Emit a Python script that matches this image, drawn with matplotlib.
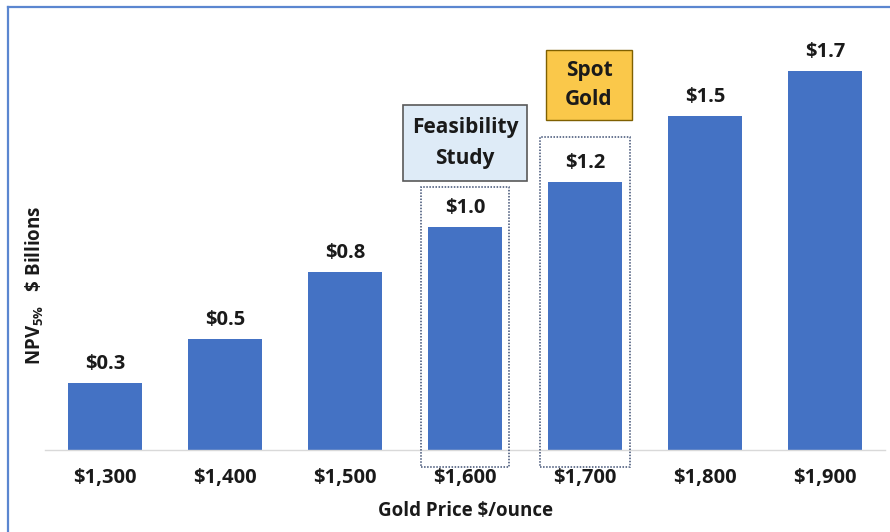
import matplotlib
matplotlib.use("Agg")
import matplotlib.pyplot as plt
from matplotlib.patches import Rectangle
from matplotlib.lines import Line2D

plt.rcParams['font.family'] = ['Open Sans', 'DejaVu Sans']
plt.rcParams['mathtext.fontset'] = 'custom'
plt.rcParams['mathtext.rm'] = 'Open Sans:bold'
plt.rcParams['mathtext.bf'] = 'Open Sans:bold'
plt.rcParams['mathtext.it'] = 'Open Sans:bold'

categories = ["$1,300", "$1,400", "$1,500", "$1,600", "$1,700", "$1,800", "$1,900"]
npv_values = [0.3, 0.5, 0.8, 1.0, 1.2, 1.5, 1.7]
value_labels = ["$0.3", "$0.5", "$0.8", "$1.0", "$1.2", "$1.5", "$1.7"]
x_title = "Gold Price $/ounce"
feasibility_text = "Feasibility\nStudy"
spot_text = "Spot\nGold"

W, H = 890, 532
fig = plt.figure(figsize=(W / 100, H / 100), dpi=100)
ax = fig.add_axes([45 / W, 82 / H, 840 / W, 446 / H])

xs = list(range(len(categories)))
bar_color = "#4472C4"
ax.bar(xs, npv_values, width=0.62, color=bar_color, zorder=2)
ax.set_xlim(-0.5, len(categories) - 0.5)
ax.set_ylim(0, 2.0)

for x, v, lab in zip(xs, npv_values, value_labels):
    ax.text(x, v + 0.04, lab, ha="center", va="bottom", fontsize=14.5,
            fontweight="bold", color="#1a1a1a")

ax.set_xticks(xs)
ax.set_xticklabels(categories, fontsize=14.5, fontweight="bold", color="#1a1a1a")
ax.tick_params(axis="x", length=0, pad=13)
ax.set_yticks([])
for s in ["top", "right", "left"]:
    ax.spines[s].set_visible(False)
ax.spines["bottom"].set_color("#D9D9D9")
ax.spines["bottom"].set_linewidth(1.0)

ax.set_xlabel(x_title, fontsize=13.5, fontweight="bold", color="#1a1a1a", labelpad=9)

fig.text(35 / W, 1 - 285 / H, r"NPV$_{5\%}$   \$ Billions", rotation=90,
         ha="center", va="center", fontsize=13.5, fontweight="bold", color="#1a1a1a")

# dotted highlight boxes around the 1,600 and 1,700 columns
for idx, top, hw in [(3, 1.179, 0.367), (4, 1.404, 0.375)]:
    ax.add_patch(Rectangle((idx - hw, -0.076), 2 * hw, top + 0.076, fill=False,
                           edgecolor="#3E4F73", linestyle=(0, (1, 1)),
                           linewidth=1.1, clip_on=False, zorder=3))

# Feasibility Study callout
ax.add_patch(Rectangle((2.483, 1.206), 1.034, 0.341, facecolor="#DEEBF7",
                       edgecolor="#595959", linewidth=1.2, clip_on=False, zorder=3))
ax.text(3.0, 1.3765, feasibility_text, ha="center", va="center", fontsize=15,
        fontweight="bold", color="#1a1a1a", linespacing=1.6, zorder=4)

# Spot Gold callout
ax.add_patch(Rectangle((3.675, 1.480), 0.717, 0.314, facecolor="#FAC84A",
                       edgecolor="#7F6000", linewidth=1.0, clip_on=False, zorder=3))
ax.text(4.033, 1.637, spot_text, ha="center", va="center", fontsize=15,
        fontweight="bold", color="#1a1a1a", linespacing=1.5, zorder=4)

# figure frame (left and top)
frame_color = "#5B86D0"
fig.add_artist(Line2D([8 / W, 8 / W], [0, 1 - 7 / H], color=frame_color,
                      linewidth=1.6, transform=fig.transFigure))
fig.add_artist(Line2D([8 / W, 1], [1 - 7 / H, 1 - 7 / H], color=frame_color,
                      linewidth=1.6, transform=fig.transFigure))

fig.savefig("out.png", dpi=100)
